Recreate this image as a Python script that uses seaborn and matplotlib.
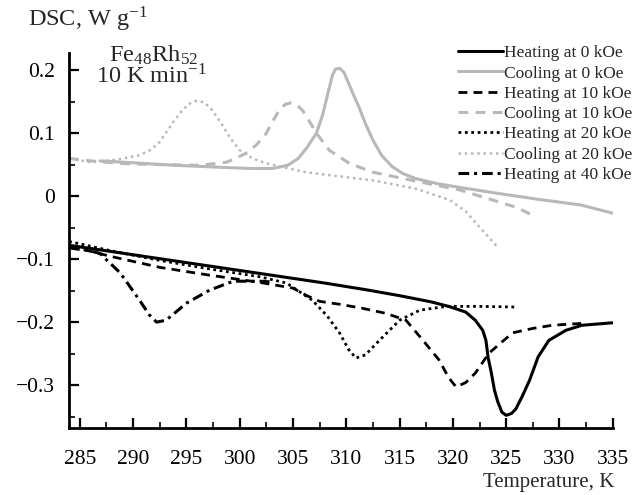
import numpy as np
import pandas as pd
import matplotlib
matplotlib.use("Agg")
import matplotlib.pyplot as plt
import seaborn as sns
from matplotlib.ticker import FixedLocator, FixedFormatter

# ---------------- data ----------------
h0_T = [284, 288, 292, 296, 300, 304, 308, 312, 315, 318, 319.6, 321.2, 322.1, 322.8, 323.1,
        323.3, 323.6, 323.9, 324.2, 324.6, 325.0, 325.5, 325.9, 326.5, 327.2, 328, 329, 330.6,
        332.1, 335]
h0_y = [-0.078, -0.088, -0.098, -0.108, -0.118, -0.128, -0.138, -0.149, -0.158, -0.168, -0.175,
        -0.184, -0.197, -0.213, -0.229, -0.256, -0.28, -0.308, -0.326, -0.343, -0.348, -0.345,
        -0.338, -0.318, -0.292, -0.255, -0.229, -0.213, -0.205, -0.201]

c0_T = [286.9, 290, 294, 298, 301, 303.1, 304.5, 305.5, 306.3, 307.2, 307.8, 308.3, 308.7, 309.0,
        309.4, 309.8, 310.2, 310.7, 311.2, 311.8, 312.5, 313.3, 314.3, 315.3, 316.5, 318.5, 320.6,
        324, 328, 332, 335]
c0_y = [0.056, 0.053, 0.049, 0.046, 0.044, 0.044, 0.049, 0.060, 0.077, 0.100, 0.130, 0.165, 0.192,
        0.202, 0.203, 0.196, 0.180, 0.160, 0.141, 0.115, 0.089, 0.065, 0.047, 0.036, 0.028, 0.020,
        0.014, 0.005, -0.005, -0.014, -0.027]

h10_T = [284, 288, 292.5, 297, 301.9, 305, 306.3, 307.5, 309.5, 311.5, 313.7, 315.6, 317.0, 318.7,
         319.6, 320.3, 321.2, 322.1, 323.4, 325.6, 327.5, 329.3, 332.1]
h10_y = [-0.079, -0.096, -0.113, -0.125, -0.137, -0.146, -0.158, -0.167, -0.172, -0.178, -0.186,
         -0.197, -0.225, -0.260, -0.288, -0.303, -0.296, -0.281, -0.249, -0.217, -0.210, -0.205,
         -0.202]

c10_T = [284, 286, 288.8, 292.5, 296.3, 298.8, 300.6, 301.6, 302.5, 303.2, 303.8, 304.3, 304.8,
         305.3, 305.9, 306.5, 307.2, 308.4, 310.3, 312.5, 316.5, 320.6, 323.7, 326, 327.8]
c10_y = [0.060, 0.056, 0.052, 0.050, 0.049, 0.054, 0.068, 0.082, 0.100, 0.122, 0.139, 0.146, 0.148,
         0.146, 0.136, 0.120, 0.100, 0.073, 0.052, 0.038, 0.024, 0.010, -0.006, -0.018, -0.033]

h20_T = [284, 288, 292.5, 297, 301.9, 304.4, 306.8, 308.2, 309.4, 310.2, 310.9, 311.8, 313.1,
         315.0, 316.9, 319.4, 322.5, 325.9]
h20_y = [-0.072, -0.087, -0.102, -0.115, -0.128, -0.138, -0.165, -0.190, -0.218, -0.243, -0.257,
         -0.252, -0.229, -0.197, -0.181, -0.175, -0.175, -0.176]

c20_T = [284, 286, 288.5, 290.6, 291.7, 292.5, 293.7, 294.5, 295.2, 295.8, 296.3, 296.8, 297.4,
         298.4, 299.2, 300.0, 301.2, 302.5, 306.2, 312.5, 316.5, 319.7, 321.2, 322.5, 324.3]
c20_y = [0.060, 0.054, 0.058, 0.065, 0.074, 0.086, 0.116, 0.134, 0.146, 0.151, 0.151, 0.147, 0.137,
         0.112, 0.090, 0.073, 0.060, 0.052, 0.038, 0.025, 0.012, -0.006, -0.024, -0.049, -0.083]

h40_T = [284, 286, 286.9, 288.8, 290.6, 291.5, 292.2, 293.1, 295.0, 297.2, 299.4, 301.9, 302.8]
h40_y = [-0.082, -0.087, -0.091, -0.122, -0.165, -0.188, -0.200, -0.197, -0.170, -0.149, -0.135,
         -0.135, -0.136]

labels = ["Heating at 0 kOe", "Cooling at 0 kOe", "Heating at 10 kOe", "Cooling at 10 kOe",
          "Heating at 20 kOe", "Cooling at 20 kOe", "Heating at 40 kOe"]

x_ticks = [285, 290, 295, 300, 305, 310, 315, 320, 325, 330, 335]
x_tick_labels = ["285", "290", "295", "300", "305", "310", "315", "320", "325", "330", "335"]
y_ticks = [0.2, 0.1, 0.0, -0.1, -0.2, -0.3]
y_tick_labels = ["0.2", "0.1", "0", "\u22120.1", "\u22120.2", "\u22120.3"]

# ---------------- styling ----------------
sns.set_style("ticks")
plt.rcParams["font.family"] = ["Liberation Serif", "DejaVu Serif"]
plt.rcParams["mathtext.fontset"] = "stix"

BLACK = "#000000"
GRAY = "#b8b8b8"

series = [
    (h0_T, h0_y, BLACK, "-", 2.2),
    (c0_T, c0_y, GRAY, "-", 2.2),
    (h10_T, h10_y, BLACK, (0, (3.2, 2.2)), 2.0),
    (c10_T, c10_y, GRAY, (0, (3.2, 2.4)), 2.2),
    (h20_T, h20_y, BLACK, (0, (1, 1.3)), 2.0),
    (c20_T, c20_y, GRAY, (0, (1, 1.5)), 1.8),
    (h40_T, h40_y, BLACK, (0, (3.5, 1.6, 1, 1.6)), 2.2),
]

fig = plt.figure(figsize=(6.37, 4.95), dpi=100)
ax = fig.add_axes([0.1085, 0.1355, 0.8535, 0.757])

for (T, y, col, ls, lw), lab in zip(series, labels):
    df = pd.DataFrame({"T": T, "DSC": y})
    sns.lineplot(data=df, x="T", y="DSC", ax=ax, color=col, linestyle=ls, lw=lw,
                 label=lab, sort=False, estimator=None)

ax.set_xlim(284, 335)
ax.set_ylim(-0.368, 0.227)
ax.set_xlabel("")
ax.set_ylabel("")

ax.xaxis.set_major_locator(FixedLocator(x_ticks))
ax.xaxis.set_major_formatter(FixedFormatter(x_tick_labels))
ax.xaxis.set_minor_locator(FixedLocator([287.5, 292.5, 297.5, 302.5, 307.5, 312.5, 317.5,
                                         322.5, 327.5, 332.5]))
ax.yaxis.set_major_locator(FixedLocator(y_ticks))
ax.yaxis.set_major_formatter(FixedFormatter(y_tick_labels))
ax.yaxis.set_minor_locator(FixedLocator([0.15, 0.05, -0.05, -0.15, -0.25, -0.35]))

ax.tick_params(which="major", direction="in", length=7, width=1.6, labelsize=15.5,
               colors="black")
ax.tick_params(axis="x", which="major", pad=16)
ax.tick_params(axis="y", which="major", pad=10)
ax.tick_params(which="minor", direction="in", length=4, width=1.4)
for s in ["top", "right"]:
    ax.spines[s].set_visible(False)
for s in ["left", "bottom"]:
    ax.spines[s].set_linewidth(2)
    ax.spines[s].set_color("black")

leg = ax.legend(loc="upper right", bbox_to_anchor=(0.992, 0.909), bbox_transform=fig.transFigure,
                frameon=False, fontsize=12.5, handlelength=2.6, handletextpad=0.05,
                labelspacing=0.24, borderpad=0, borderaxespad=0)

fig.text(0.044, 0.96, "DSC, W g$^{\\mathregular{\u22121}}$", fontsize=17.5, ha="left", va="center")
fig.text(0.242, 0.889, "Fe$_{\\mathregular{48}}$Rh$_{\\mathregular{52}}$", fontsize=17.5,
         ha="center", va="center")
fig.text(0.238, 0.845, "10 K min$^{\\mathregular{\u22121}}$", fontsize=17.5, ha="center", va="center")
fig.text(0.964, 0.026, "Temperature, K", fontsize=15, ha="right", va="center")

fig.savefig("out.png", dpi=100)
